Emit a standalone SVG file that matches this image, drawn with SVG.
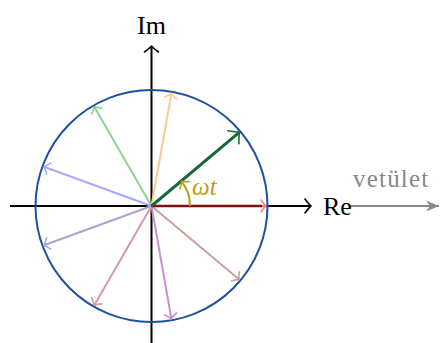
<svg xmlns="http://www.w3.org/2000/svg" width="440" height="343" viewBox="0 0 440 343">
<style>
.ax{stroke:#000;stroke-width:2;fill:none}
.v{stroke-width:2;fill:none}
.ah{fill:none;stroke-width:1.6;stroke-linecap:round;stroke-linejoin:round}
text{font-family:'Liberation Serif','DejaVu Serif',serif;font-size:24px}
</style>
<defs>
<marker id="mk-k" markerUnits="userSpaceOnUse" markerWidth="20" markerHeight="20" viewBox="-12 -10 20 20" refX="0" refY="0" orient="auto"><path class="ah" stroke="#000" stroke-width="2" d="M-6,-7 Q-2,-1.5 0,0 Q-2,1.5 -6,7"/></marker>
<marker id="mk-r" markerUnits="userSpaceOnUse" markerWidth="20" markerHeight="20" viewBox="-12 -10 20 20" refX="0" refY="0" orient="auto"><path class="ah" stroke="#ff8080" d="M-5,-6 Q-2,-1.5 0,0 Q-2,1.5 -5,6"/></marker>
<marker id="mk-o" markerUnits="userSpaceOnUse" markerWidth="20" markerHeight="20" viewBox="-12 -10 20 20" refX="0" refY="0" orient="auto"><path class="ah" stroke="#ffc890" d="M-5,-6 Q-2,-1.5 0,0 Q-2,1.5 -5,6"/></marker>
<marker id="mk-g" markerUnits="userSpaceOnUse" markerWidth="20" markerHeight="20" viewBox="-12 -10 20 20" refX="0" refY="0" orient="auto"><path class="ah" stroke="#90d090" d="M-5,-6 Q-2,-1.5 0,0 Q-2,1.5 -5,6"/></marker>
<marker id="mk-b" markerUnits="userSpaceOnUse" markerWidth="20" markerHeight="20" viewBox="-12 -10 20 20" refX="0" refY="0" orient="auto"><path class="ah" stroke="#a8a8ff" d="M-5,-6 Q-2,-1.5 0,0 Q-2,1.5 -5,6"/></marker>
<marker id="mk-p" markerUnits="userSpaceOnUse" markerWidth="20" markerHeight="20" viewBox="-12 -10 20 20" refX="0" refY="0" orient="auto"><path class="ah" stroke="#b0a0d0" d="M-5,-6 Q-2,-1.5 0,0 Q-2,1.5 -5,6"/></marker>
<marker id="mk-pk" markerUnits="userSpaceOnUse" markerWidth="20" markerHeight="20" viewBox="-12 -10 20 20" refX="0" refY="0" orient="auto"><path class="ah" stroke="#d898a8" d="M-5,-6 Q-2,-1.5 0,0 Q-2,1.5 -5,6"/></marker>
<marker id="mk-vi" markerUnits="userSpaceOnUse" markerWidth="20" markerHeight="20" viewBox="-12 -10 20 20" refX="0" refY="0" orient="auto"><path class="ah" stroke="#c890d0" d="M-5,-6 Q-2,-1.5 0,0 Q-2,1.5 -5,6"/></marker>
<marker id="mk-br" markerUnits="userSpaceOnUse" markerWidth="20" markerHeight="20" viewBox="-12 -10 20 20" refX="0" refY="0" orient="auto"><path class="ah" stroke="#c8a0a0" d="M-5,-6 Q-2,-1.5 0,0 Q-2,1.5 -5,6"/></marker>
<marker id="mk-dg" markerUnits="userSpaceOnUse" markerWidth="24" markerHeight="24" viewBox="-14 -12 24 24" refX="0" refY="0" orient="auto"><path class="ah" stroke="#17683a" stroke-width="2.6" d="M-8,-8.5 Q-2.5,-2 0,0 Q-2.5,2 -8,8.5"/></marker>
<marker id="mk-au" markerUnits="userSpaceOnUse" markerWidth="20" markerHeight="20" viewBox="-12 -10 20 20" refX="0" refY="0" orient="auto"><path class="ah" stroke="#c39a1e" stroke-width="2" d="M-5,-6 Q-2,-1.5 0,0 Q-2,1.5 -5,6"/></marker>
<marker id="mk-gy" markerUnits="userSpaceOnUse" markerWidth="20" markerHeight="20" viewBox="-14 -10 20 20" refX="0" refY="0" orient="auto"><path fill="#888" d="M-13,-5.5 L0,0 L-13,5.5 L-9,0 Z"/></marker>
</defs>

<g id="axes">
<line class="ax" x1="10" y1="206" x2="311" y2="206" marker-end="url(#mk-k)"/>
<line class="ax" x1="151.5" y1="343" x2="151.5" y2="46" marker-end="url(#mk-k)"/>
</g>

<g id="circle">
<circle cx="151.5" cy="206" r="116" fill="none" stroke="#1f50a0" stroke-width="2"/>
</g>

<g id="connectors">
<line class="v" stroke="#ff8080" x1="151.5" y1="206" x2="266" y2="206" marker-end="url(#mk-r)"/>
<line class="v" stroke="#ffc890" x1="151.5" y1="206" x2="171.4" y2="93.2" marker-end="url(#mk-o)"/>
<line class="v" stroke="#90d090" x1="151.5" y1="206" x2="94.25" y2="106.8" marker-end="url(#mk-g)"/>
<line class="v" stroke="#a8a8ff" x1="151.5" y1="206" x2="43.9" y2="166.8" marker-end="url(#mk-b)"/>
<line class="v" stroke="#b0a0d0" x1="151.5" y1="206" x2="43.9" y2="245.2" marker-end="url(#mk-p)"/>
<line class="v" stroke="#d898a8" x1="151.5" y1="206" x2="94.25" y2="305.2" marker-end="url(#mk-pk)"/>
<line class="v" stroke="#c890d0" x1="151.5" y1="206" x2="171.4" y2="318.8" marker-end="url(#mk-vi)"/>
<line class="v" stroke="#c8a0a0" x1="151.5" y1="206" x2="239.2" y2="279.6" marker-end="url(#mk-br)"/>
<line stroke="#7a1212" stroke-width="2.6" x1="151.5" y1="206" x2="262" y2="206"/>
<line stroke="#17683a" stroke-width="3" x1="151.5" y1="206" x2="239.5" y2="132.2" marker-end="url(#mk-dg)"/>
<path d="M190,206 A38.5,38.5 0 0 0 181.5,181.3" fill="none" stroke="#c39a1e" stroke-width="2" marker-end="url(#mk-au)"/>
<line stroke="#888" stroke-width="2" x1="350" y1="206" x2="439" y2="206" marker-end="url(#mk-gy)"/>
</g>

<g id="labels">
<text x="151.5" y="34" text-anchor="middle" fill="#000" style="font-family:'Liberation Serif','DejaVu Serif',serif;font-size:26px">Im</text>
<text x="323" y="215" fill="#000" style="font-family:'Liberation Serif','DejaVu Serif',serif;font-size:26px">Re</text>
<text x="353" y="187" fill="#888" style="font-family:'Liberation Serif','DejaVu Serif',serif;font-size:25px;letter-spacing:1.2px">vetület</text>
<text x="192" y="195" fill="#c39a1e" style="font-family:'Liberation Serif','DejaVu Serif',serif;font-style:italic;font-size:25px">ωt</text>
</g>
</svg>
